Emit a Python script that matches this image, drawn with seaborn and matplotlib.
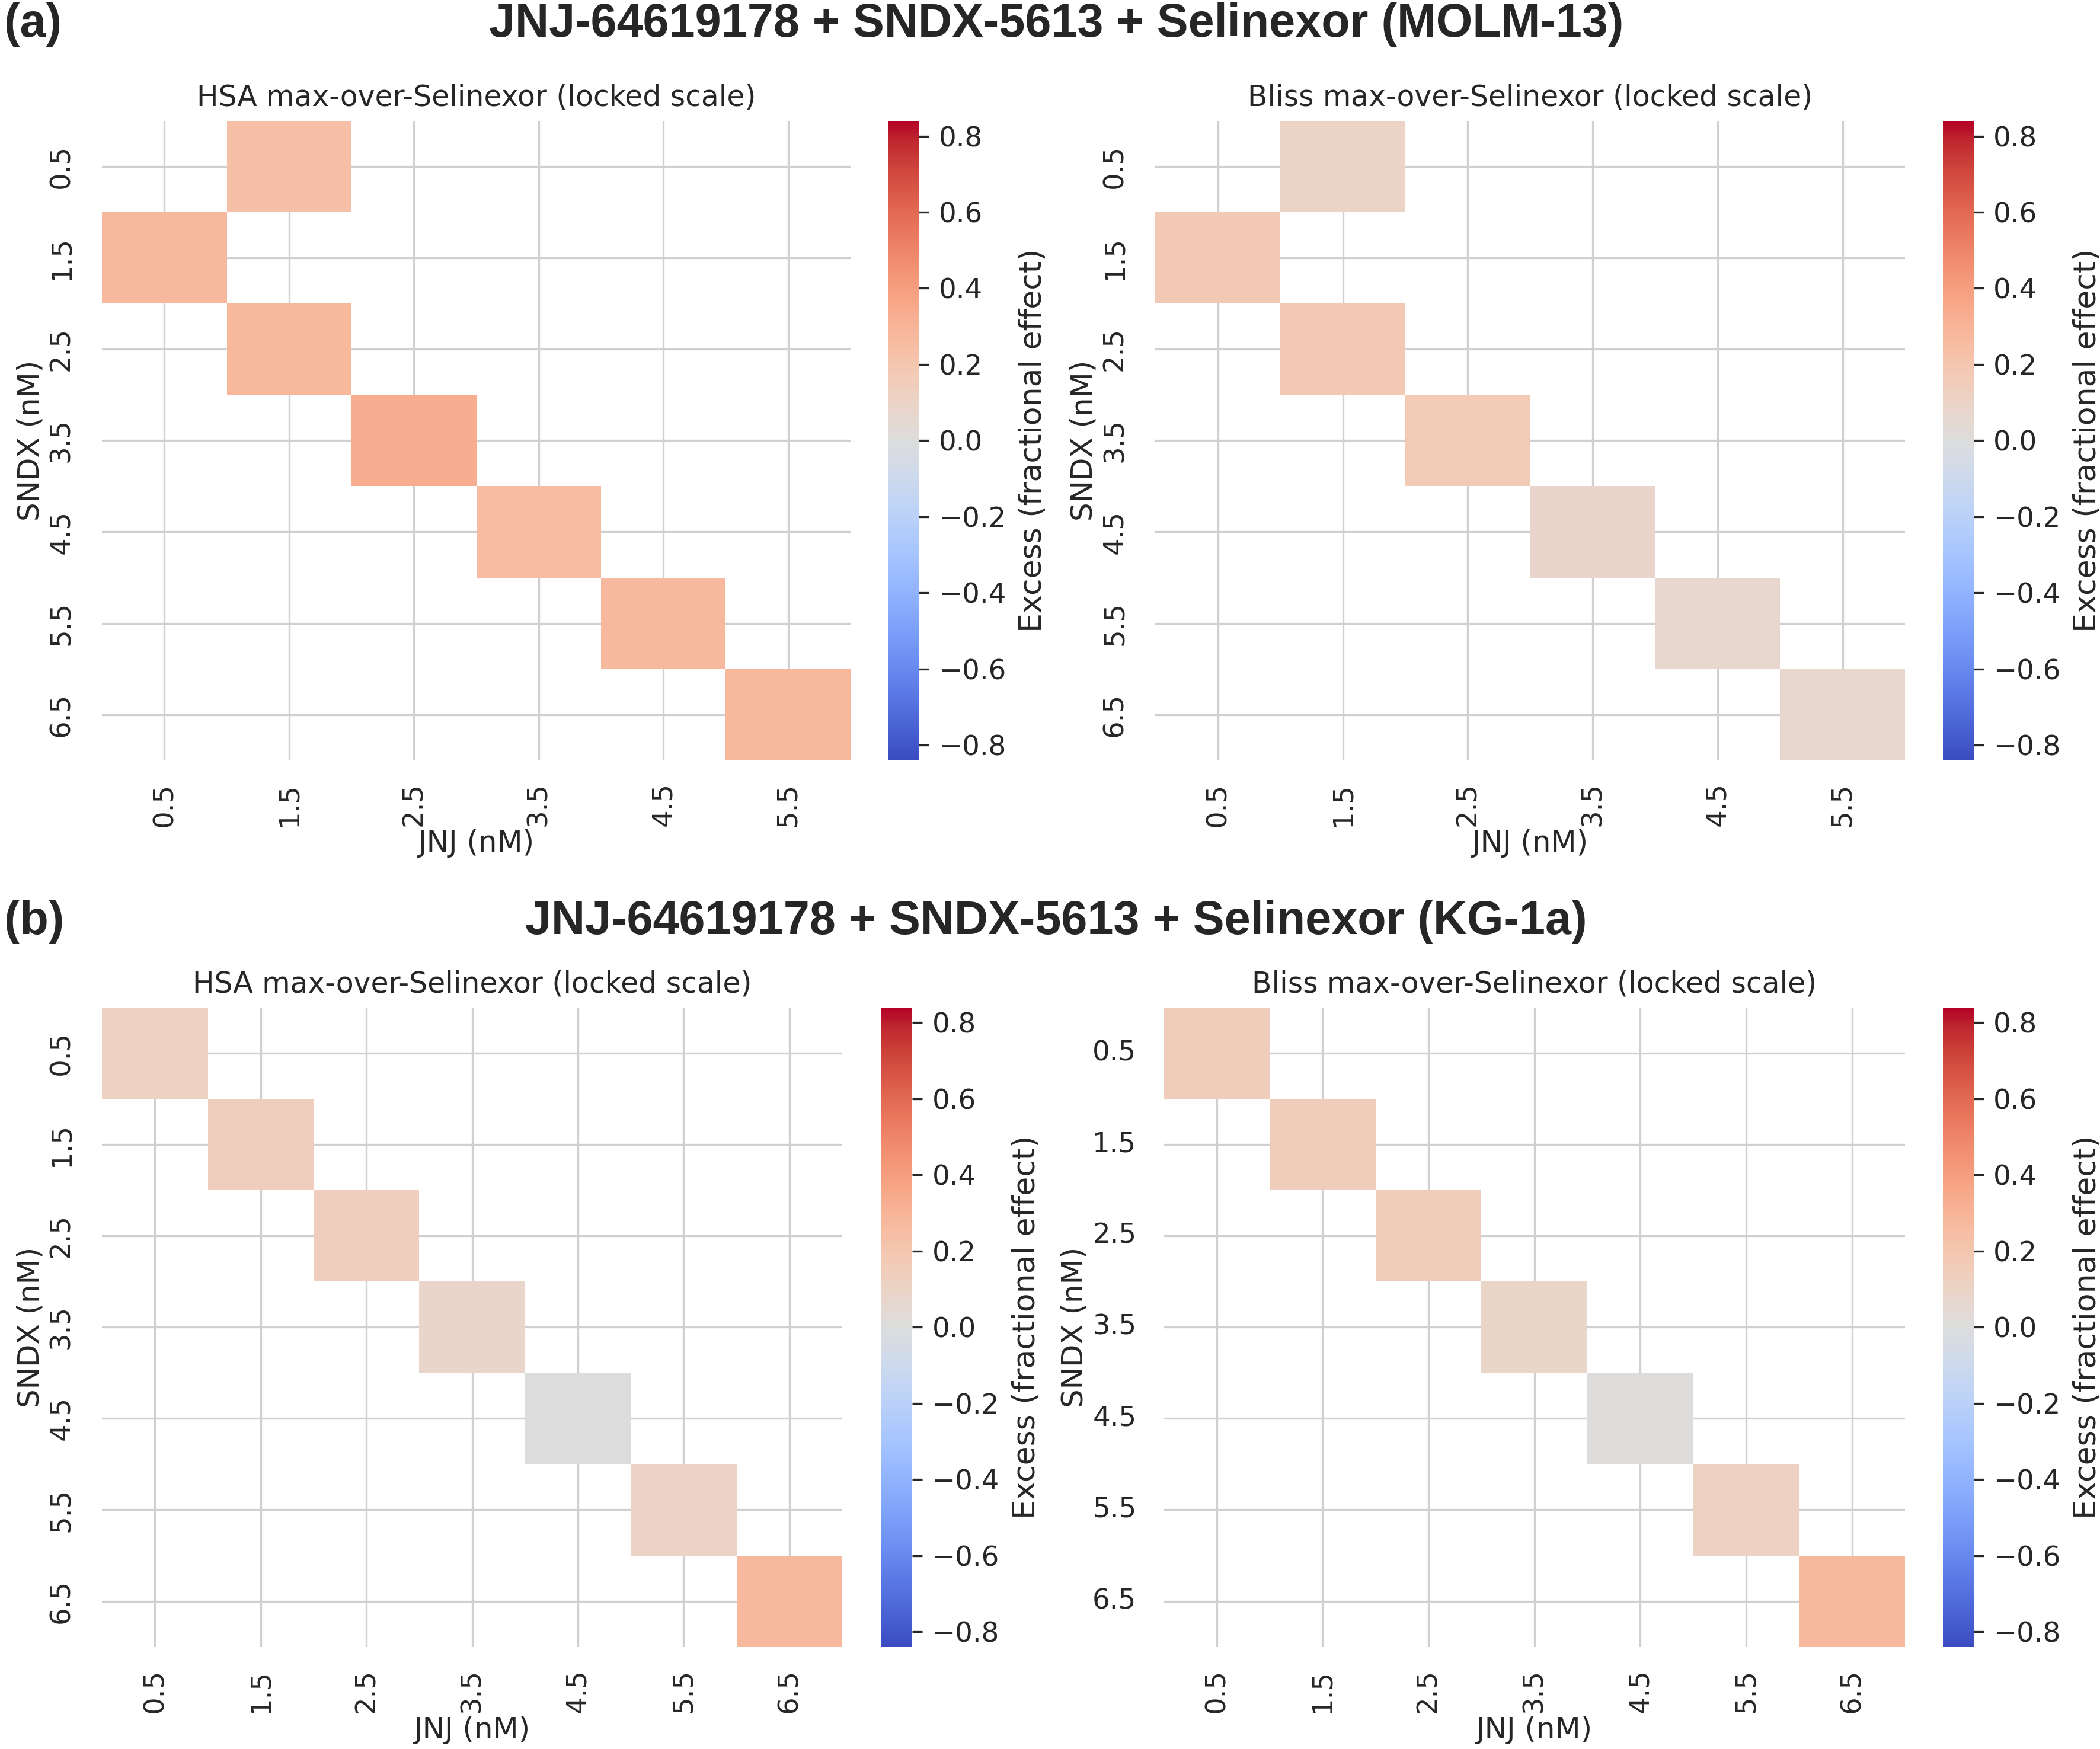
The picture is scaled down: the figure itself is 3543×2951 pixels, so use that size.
import numpy as np
import pandas as pd
import seaborn as sns
import matplotlib.pyplot as plt

# axis labels (nM)
sndx_labels = ['0.5', '1.5', '2.5', '3.5', '4.5', '5.5', '6.5']
jnj_labels_a = ['0.5', '1.5', '2.5', '3.5', '4.5', '5.5']
jnj_labels_b = ['0.5', '1.5', '2.5', '3.5', '4.5', '5.5', '6.5']

# (a) MOLM-13: column index of the one filled cell per SNDX row
a_jnj_idx = [1, 0, 1, 2, 3, 4, 5]
a_hsa = [0.23, 0.27, 0.28, 0.33, 0.26, 0.27, 0.28]
a_bliss = [0.10, 0.18, 0.18, 0.17, 0.08, 0.07, 0.07]

# (b) KG-1a
b_jnj_idx = [0, 1, 2, 3, 4, 5, 6]
b_hsa = [0.12, 0.14, 0.14, 0.08, 0.00, 0.11, 0.27]
b_bliss = [0.15, 0.15, 0.15, 0.09, 0.01, 0.12, 0.27]

VLIM = 0.84


def build_grid(col_idx, vals, cols):
    grid = pd.DataFrame(np.nan, index=sndx_labels, columns=cols)
    for r, (c, v) in enumerate(zip(col_idx, vals)):
        grid.iloc[r, c] = v
    return grid


sns.set_theme(style='whitegrid')
plt.rcParams.update({
    'font.size': 12,
    'axes.titlesize': 11.7,
    'axes.labelsize': 12,
    'xtick.labelsize': 11.2,
    'ytick.labelsize': 11.2,
    'grid.color': '#d0d0d0',
    'grid.linewidth': 0.8,
})
plt.rcParams['font.family'] = ['DejaVu Sans']

fig = plt.figure(figsize=(3543 / 300, 2951 / 300), dpi=300)

panels = [
    # data, title, ax rect, cbar x, ytick rotation
    (build_grid(a_jnj_idx, a_hsa, jnj_labels_a), 'HSA max-over-Selinexor (locked scale)',
     [0.0486, 0.5653, 0.3564, 0.3656], 0.4229, 90),
    (build_grid(a_jnj_idx, a_bliss, jnj_labels_a), 'Bliss max-over-Selinexor (locked scale)',
     [0.5502, 0.5653, 0.3570, 0.3656], 0.9251, 90),
    (build_grid(b_jnj_idx, b_hsa, jnj_labels_b), 'HSA max-over-Selinexor (locked scale)',
     [0.0486, 0.0584, 0.3525, 0.3656], 0.4197, 90),
    (build_grid(b_jnj_idx, b_bliss, jnj_labels_b), 'Bliss max-over-Selinexor (locked scale)',
     [0.5541, 0.0584, 0.3531, 0.3656], 0.9251, 0),
]

for grid, title, rect, cx, yrot in panels:
    ax = fig.add_axes(rect)
    cax = fig.add_axes([cx, rect[1], 0.0147, rect[3]])
    sns.heatmap(grid, ax=ax, cbar_ax=cax, cmap='coolwarm', vmin=-VLIM, vmax=VLIM,
                cbar_kws={'label': 'Excess (fractional effect)',
                          'ticks': [-0.8, -0.6, -0.4, -0.2, 0.0, 0.2, 0.4, 0.6, 0.8]})
    ax.grid(True)
    ax.set_axisbelow(True)
    ax.set_title(title, pad=6)
    ax.set_xlabel('JNJ (nM)', labelpad=1)
    ax.set_ylabel('SNDX (nM)', labelpad=1.5)
    ax.tick_params(axis='x', length=0, pad=9)
    ax.tick_params(axis='y', length=0, pad=11)
    plt.setp(ax.get_xticklabels(), rotation=90)
    plt.setp(ax.get_yticklabels(), rotation=yrot, va='center')
    cax.tick_params(axis='y', length=4, width=0.8, pad=4, color='.15')
    cax.yaxis.label.set_size(12.5)
    cax.yaxis.labelpad = 5

title_font = ['Liberation Sans', 'DejaVu Sans']
fig.text(0.002, 0.986, '(a)', fontsize=19, fontweight='bold', family=title_font,
         ha='left', va='center')
fig.text(0.503, 0.986, 'JNJ-64619178 + SNDX-5613 + Selinexor (MOLM-13)', fontsize=19,
         fontweight='bold', family=title_font, ha='center', va='center')
fig.text(0.002, 0.473, '(b)', fontsize=19, fontweight='bold', family=title_font,
         ha='left', va='center')
fig.text(0.503, 0.473, 'JNJ-64619178 + SNDX-5613 + Selinexor (KG-1a)', fontsize=19,
         fontweight='bold', family=title_font, ha='center', va='center')

fig.savefig('out.png', dpi=300)
